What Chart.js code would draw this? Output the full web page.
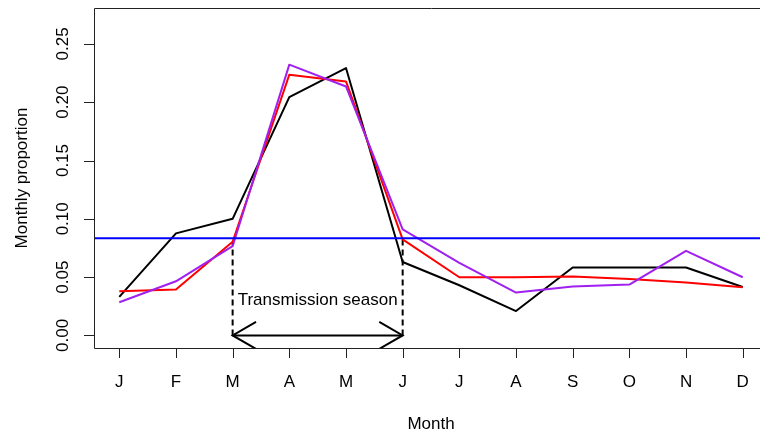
<!DOCTYPE html>
<html>
<head>
    <title>Monthly proportion</title>
    <script src="https://cdnjs.cloudflare.com/ajax/libs/Chart.js/4.4.0/chart.umd.min.js"></script>
    <style>
        html, body {
            margin: 0;
            padding: 0;
            background: #fff;
            overflow: hidden;
        }
        .chart-container {
            width: 780px;
            height: 435px;
        }
    </style>
</head>
<body>
    <div class="chart-container">
        <canvas id="myChart" width="780" height="435"></canvas>
    </div>

    <script>
        const monthLabels = ['J', 'F', 'M', 'A', 'M', 'J', 'J', 'A', 'S', 'O', 'N', 'D'];
        const blackProp  = [0.033, 0.0875, 0.100, 0.2044, 0.2293, 0.063, 0.043, 0.0209, 0.0582, 0.0582, 0.0582, 0.0415];
        const redProp    = [0.0378, 0.0393, 0.0803, 0.2236, 0.2178, 0.0823, 0.0499, 0.0499, 0.0505, 0.0484, 0.0453, 0.0413];
        const purpleProp = [0.0284, 0.0464, 0.0765, 0.2322, 0.2135, 0.0909, 0.0622, 0.0367, 0.0419, 0.0436, 0.0725, 0.0499];
        const uniformProp = 0.0833;
        const yTicks = [0, 0.05, 0.10, 0.15, 0.20, 0.25];
        const seasonStart = 3;   // March
        const seasonEnd = 6;     // June
        const seasonLabel = 'Transmission season';

        const FONT = '"Liberation Sans", Arial, sans-serif';

        function toPoints(arr) {
            return arr.map((v, i) => ({ x: i + 1, y: v }));
        }

        // R-style box, ticks, rotated y labels and the season arrow
        const baseGraphics = {
            id: 'baseGraphics',
            afterDatasetsDraw(chart) {
                const ctx = chart.ctx;
                const area = chart.chartArea;
                const xs = chart.scales.x;
                const ys = chart.scales.y;

                ctx.save();

                // arrow heads on the season line
                ctx.save();
                ctx.beginPath();
                ctx.rect(area.left, area.top, area.right - area.left, area.bottom - area.top);
                ctx.clip();
                ctx.strokeStyle = '#000';
                ctx.lineWidth = 2;
                const y0 = ys.getPixelForValue(0);
                const xa = xs.getPixelForValue(seasonStart);
                const xb = xs.getPixelForValue(seasonEnd);
                const L = 27, dx = L * Math.cos(Math.PI / 6), dy = L * Math.sin(Math.PI / 6);
                ctx.beginPath();
                ctx.moveTo(xa + dx, y0 - dy); ctx.lineTo(xa, y0); ctx.lineTo(xa + dx, y0 + dy);
                ctx.moveTo(xb - dx, y0 - dy); ctx.lineTo(xb, y0); ctx.lineTo(xb - dx, y0 + dy);
                ctx.stroke();
                ctx.restore();

                ctx.fillStyle = '#000';
                ctx.font = '17px ' + FONT;
                ctx.textAlign = 'center';
                ctx.textBaseline = 'middle';
                ctx.fillText(seasonLabel, xs.getPixelForValue((seasonStart + seasonEnd) / 2), ys.getPixelForValue(0.030));

                // box
                ctx.strokeStyle = '#222';
                ctx.lineWidth = 1;
                ctx.beginPath();
                ctx.rect(area.left + 0.5, area.top + 0.5, area.right - area.left, area.bottom - area.top);
                ctx.stroke();

                // x axis ticks and labels
                ctx.beginPath();
                const xFirst = xs.getPixelForValue(1);
                const xLast = xs.getPixelForValue(monthLabels.length);
                ctx.moveTo(xFirst, area.bottom + 0.5);
                ctx.lineTo(xLast, area.bottom + 0.5);
                monthLabels.forEach((m, i) => {
                    const px = Math.round(xs.getPixelForValue(i + 1)) + 0.5;
                    ctx.moveTo(px, area.bottom);
                    ctx.lineTo(px, area.bottom + 10);
                });
                ctx.stroke();
                ctx.fillStyle = '#000';
                monthLabels.forEach((m, i) => {
                    ctx.fillText(m, xs.getPixelForValue(i + 1), 382);
                });

                // y axis ticks and labels
                ctx.beginPath();
                yTicks.forEach(v => {
                    const py = Math.round(ys.getPixelForValue(v)) + 0.5;
                    ctx.moveTo(area.left, py);
                    ctx.lineTo(area.left - 10, py);
                });
                ctx.stroke();
                yTicks.forEach(v => {
                    ctx.save();
                    ctx.translate(63, ys.getPixelForValue(v));
                    ctx.rotate(-Math.PI / 2);
                    ctx.fillText(v.toFixed(2), 0, 0);
                    ctx.restore();
                });

                // axis titles
                ctx.fillText('Month', (area.left + area.right) / 2, 424);
                ctx.save();
                ctx.translate(22, (area.top + area.bottom) / 2);
                ctx.rotate(-Math.PI / 2);
                ctx.fillText('Monthly proportion', 0, 0);
                ctx.restore();

                ctx.restore();
            }
        };

        const ctx = document.getElementById('myChart');

        const datasets = [
            {
                label: 'Uniform',
                data: [{ x: 0, y: uniformProp }, { x: 13, y: uniformProp }],
                borderColor: '#0000FF',
                borderWidth: 2,
                order: 0
            },
            {
                label: 'Purple',
                data: toPoints(purpleProp),
                borderColor: '#A020F0',
                borderWidth: 2,
                order: 1
            },
            {
                label: 'Red',
                data: toPoints(redProp),
                borderColor: '#FF0000',
                borderWidth: 2,
                order: 2
            },
            {
                label: 'Black',
                data: toPoints(blackProp),
                borderColor: '#000000',
                borderWidth: 2,
                order: 3
            },
            {
                label: 'Season start',
                data: [{ x: seasonStart, y: 0 }, { x: seasonStart, y: redProp[seasonStart - 1] }],
                borderColor: '#000000',
                borderWidth: 2,
                borderDash: [6, 4],
                order: 4
            },
            {
                label: 'Season end',
                data: [{ x: seasonEnd, y: 0 }, { x: seasonEnd, y: redProp[seasonEnd - 1] }],
                borderColor: '#000000',
                borderWidth: 2,
                borderDash: [6, 4],
                order: 4
            },
            {
                label: 'Season span',
                data: [{ x: seasonStart, y: 0 }, { x: seasonEnd, y: 0 }],
                borderColor: '#000000',
                borderWidth: 2,
                order: 4
            }
        ];

        new Chart(ctx, {
            type: 'line',
            data: { datasets: datasets },
            options: {
                responsive: false,
                animation: false,
                devicePixelRatio: 1,
                layout: {
                    padding: { left: 94, right: 12, top: 8, bottom: 87 }
                },
                elements: {
                    point: { radius: 0 },
                    line: { tension: 0, borderCapStyle: 'butt', borderJoinStyle: 'round' }
                },
                plugins: {
                    legend: { display: false },
                    tooltip: { enabled: false }
                },
                scales: {
                    x: {
                        type: 'linear',
                        min: 0.554,
                        max: 12.446,
                        display: false
                    },
                    y: {
                        type: 'linear',
                        min: -0.0108,
                        max: 0.2808,
                        display: false
                    }
                }
            },
            plugins: [baseGraphics]
        });
    </script>
</body>
</html>
